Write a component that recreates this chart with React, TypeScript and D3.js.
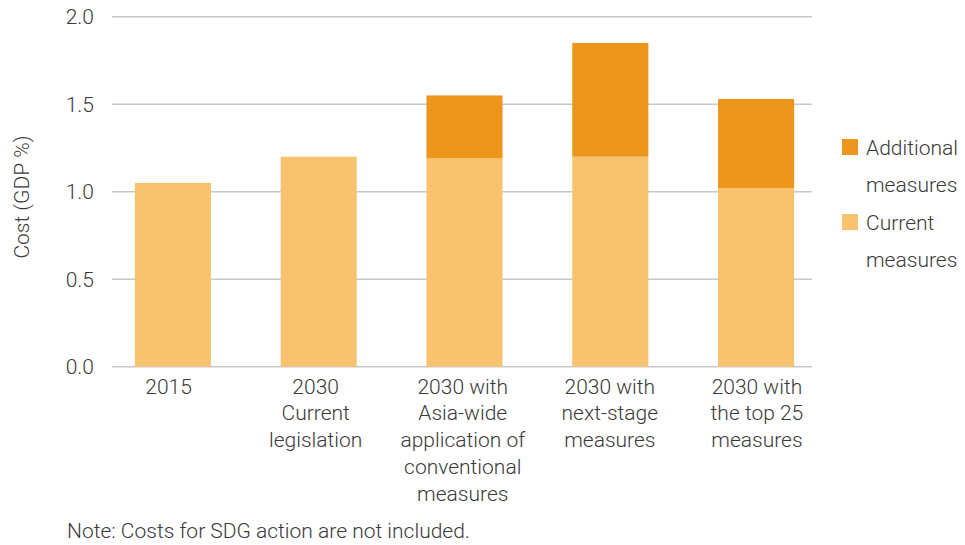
import React from "react";
import * as d3 from "d3";

const categories: string[][] = [
  ["2015"],
  ["2030", "Current", "legislation"],
  ["2030 with", "Asia-wide", "application of", "conventional", "measures"],
  ["2030 with", "next-stage", "measures"],
  ["2030 with", "the top 25", "measures"],
];
const currentMeasures = [1.05, 1.2, 1.19, 1.2, 1.02];
const additionalMeasures = [0, 0, 0.36, 0.65, 0.51];
const yTicks = [0, 0.5, 1.0, 1.5, 2.0];
const seriesNames = ["Additional measures", "Current measures"];

const W = 965;
const H = 545;
const COLORS = { current: "#F8C26E", additional: "#EC961B" };
const FONT = "Roboto, 'Noto Sans', sans-serif";
const TEXT = "#3a3a3a";
const FS = 21;

export default function App() {
  const idx = categories.map((_, i) => String(i));
  const x = d3.scaleBand<string>().domain(idx).range([100, 829]).paddingInner(0.478).paddingOuter(0.239);
  const xLabel = d3.scaleBand<string>().domain(idx).range([95, 830.5]);
  const y = d3.scaleLinear().domain([0, 2]).range([366.7, 16.7]);

  return (
    <svg width={W} height={H} style={{ position: "absolute", left: 0, top: 0, background: "#fff" }}>
      {yTicks.map((t) => (
        <g key={t}>
          <line x1={112} x2={812} y1={y(t)} y2={y(t)} stroke="#c8c8c8" strokeWidth={1.5} />
          <text x={94} y={y(t)} dy="0.36em" textAnchor="end" fontFamily={FONT} fontWeight={300} fontSize={FS} fill={TEXT}>
            {d3.format(".1f")(t)}
          </text>
        </g>
      ))}
      <text transform={`translate(29,197) rotate(-90)`} textAnchor="middle" fontFamily={FONT} fontWeight={300} fontSize={FS} fill={TEXT}>
        Cost (GDP %)
      </text>
      {idx.map((k, i) => (
        <g key={k}>
          <rect x={x(k)} width={x.bandwidth()} y={y(currentMeasures[i])} height={y(0) - y(currentMeasures[i])} fill={COLORS.current} />
          {additionalMeasures[i] > 0 && (
            <rect
              x={x(k)}
              width={x.bandwidth()}
              y={y(currentMeasures[i] + additionalMeasures[i])}
              height={y(currentMeasures[i]) - y(currentMeasures[i] + additionalMeasures[i])}
              fill={COLORS.additional}
            />
          )}
          <text textAnchor="middle" fontFamily={FONT} fontWeight={300} fontSize={FS} fill={TEXT}>
            {categories[i].map((line, j) => (
              <tspan key={j} x={(xLabel(k) as number) + xLabel.bandwidth() / 2} y={393.5 + j * 26.8}>
                {line}
              </tspan>
            ))}
          </text>
        </g>
      ))}
      {[
        { name: seriesNames[0], color: COLORS.additional, y0: 147 },
        { name: seriesNames[1], color: COLORS.current, y0: 222 },
      ].map((s) => {
        const words = s.name.split(" ");
        return (
          <g key={s.name}>
            <rect x={842} y={s.y0 - 8} width={16} height={16} fill={s.color} />
            <text fontFamily={FONT} fontWeight={300} fontSize={FS} fill={TEXT}>
              <tspan x={866} y={s.y0 + 7.5}>{words[0]}</tspan>
              <tspan x={866} y={s.y0 + 7.5 + 37.5}>{words[1]}</tspan>
            </text>
          </g>
        );
      })}
      <text x={67} y={538} fontFamily={FONT} fontWeight={300} fontSize={FS} fill={TEXT}>
        Note: Costs for SDG action are not included.
      </text>
    </svg>
  );
}
